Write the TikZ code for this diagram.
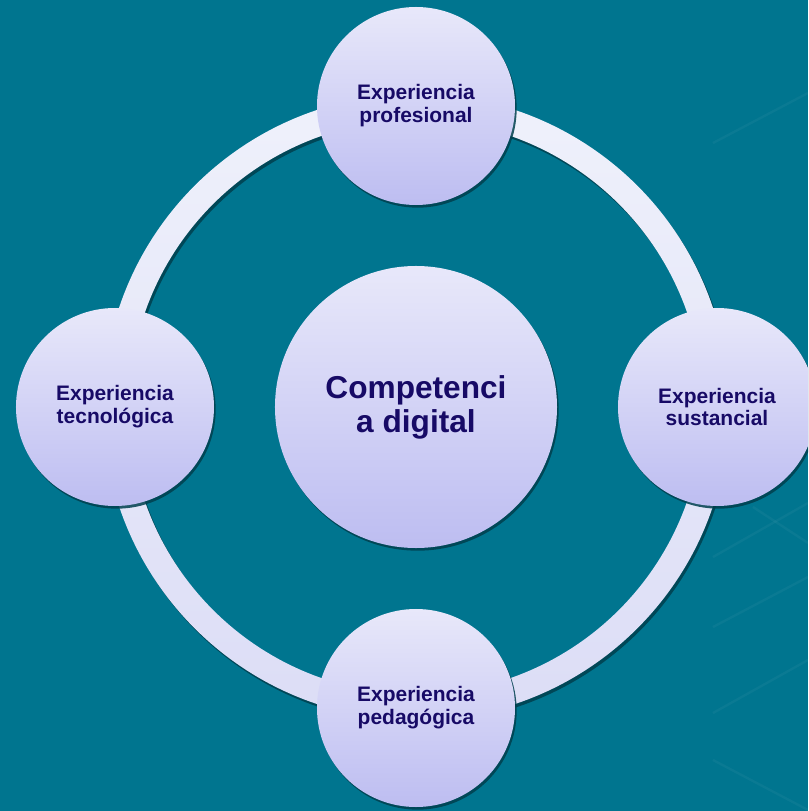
\documentclass[tikz,border=0pt]{standalone}
\usepackage{fontspec}
\setmainfont{Liberation Sans}
\usetikzlibrary{shadows}

\definecolor{slidebg}{HTML}{00758F}
\definecolor{bubbletop}{HTML}{E8E8FA}
\definecolor{bubblebot}{HTML}{BDBDF1}
\definecolor{ringtop}{HTML}{EFF1FB}
\definecolor{ringbot}{HTML}{DCDDF6}
\definecolor{labelblue}{HTML}{170A66}
\definecolor{shadowteal}{HTML}{003F4E}

\def\ringrad{300}
\def\ringhalf{13}
\def\orbit{301}

\begin{document}
\begin{tikzpicture}[x=0.03cm,y=0.03cm]
	\tikzstyle{bubble}=[circle,inner sep=0pt,align=center,text=labelblue,top color=bubbletop,bottom color=bubblebot,drop shadow={shadow xshift=0.05cm,shadow yshift=-0.08cm,fill=shadowteal,opacity=0.85}]
	\tikzstyle{outer bubble}=[bubble,minimum size=5.94cm,font=\fontsize{17.9}{19.6}\selectfont\bfseries]
	\tikzstyle{core bubble}=[bubble,minimum size=8.46cm,font=\fontsize{27}{29}\selectfont\bfseries]
	\tikzstyle{deco}=[draw=white,opacity=0.04,line width=0.07cm]
	
	% Draw the background
	\clip (-416,-404) rectangle (392,407);
	\fill[slidebg] (-416,-404) rectangle (392,407);
	\draw[deco] (297,264) -- (392,314);
	\draw[deco] (297,-150) -- (392,-96);
	\draw[deco] (297,-220) -- (392,-170);
	\draw[deco] (297,-306) -- (392,-253);
	\draw[deco] (337,-100) -- (392,-136);
	\draw[deco] (297,-353) -- (392,-403);
	
	% Draw the ring with its shadow
	\fill[shadowteal,opacity=0.85,even odd rule] (2,-3) circle (\ringrad+\ringhalf) (2,-3) circle (\ringrad-\ringhalf);
	\shade[top color=ringtop,bottom color=ringbot,even odd rule] (0,0) circle (\ringrad+\ringhalf) (0,0) circle (\ringrad-\ringhalf);
	
	% Draw the outer nodes
	\foreach \name/\ang/\txt in {prof/90/profesional,sust/0/sustancial,peda/-90/pedagógica,tecn/180/tecnológica}
		\node[outer bubble] (\name) at (\ang:\orbit) {Experiencia\\\txt};
	
	% Draw the center node
	\node[core bubble] (core) at (0,0) {Competenci\\a digital};
\end{tikzpicture}
\end{document}
